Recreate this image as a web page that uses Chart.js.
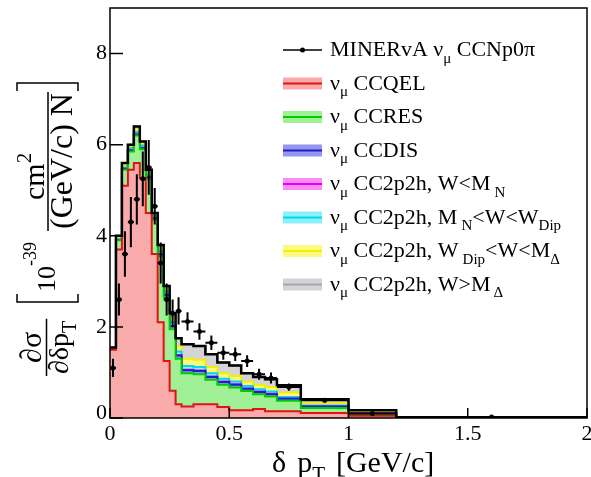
<!DOCTYPE html>
<html lang="en">
<head>
<meta charset="UTF-8">
<title>MINERvA dpT</title>
<script src="https://cdn.jsdelivr.net/npm/chart.js@4.4.0/dist/chart.umd.min.js"></script>
<style>
  html, body { margin: 0; padding: 0; background: #fff; }
  .grafico { width: 591px; height: 477px; position: relative; }
</style>
</head>
<body>
<div class="grafico"><canvas id="myChart"></canvas></div>
<script>
// bin edges of delta pT [GeV/c]
const binEdges = [0, 0.025, 0.05, 0.075, 0.1, 0.125, 0.15, 0.175, 0.2, 0.225, 0.25, 0.275, 0.3,
                  0.35, 0.4, 0.45, 0.5, 0.55, 0.6, 0.65, 0.7, 0.8, 1.0, 1.2, 2.0];

// MC components, one value per bin (they are stacked)
const ccqel = [1.50, 3.70, 5.10, 5.45, 5.60, 5.27, 4.50, 3.60, 2.10, 1.25, 0.60, 0.30, 0.25, 0.30, 0.30, 0.24, 0.17, 0.17, 0.20, 0.15, 0.15, 0.11, 0.05, 0.003];
const ccres = [0.02, 0.20, 0.35, 0.40, 0.60, 0.63, 0.75, 0.75, 1.45, 1.40, 1.35, 1.00, 0.73, 0.66, 0.54, 0.49, 0.50, 0.42, 0.32, 0.32, 0.23, 0.11, 0.03, 0.002];
const ccdis = [0.00, 0.01, 0.02, 0.02, 0.02, 0.02, 0.03, 0.03, 0.04, 0.05, 0.06, 0.07, 0.07, 0.07, 0.06, 0.06, 0.06, 0.05, 0.05, 0.05, 0.04, 0.03, 0.02, 0.001];
const mecLowW = [0.00, 0.00, 0.00, 0.01, 0.01, 0.01, 0.01, 0.01, 0.01, 0.01, 0.01, 0.01, 0.01, 0.01, 0.01, 0.01, 0.01, 0.01, 0.01, 0.01, 0.01, 0.005, 0.002, 0.0];
const mecDip = [0.01, 0.02, 0.03, 0.04, 0.05, 0.05, 0.05, 0.05, 0.06, 0.07, 0.08, 0.08, 0.08, 0.08, 0.07, 0.06, 0.06, 0.05, 0.05, 0.05, 0.03, 0.02, 0.01, 0.001];
const mecDelta = [0.01, 0.03, 0.04, 0.03, 0.05, 0.04, 0.05, 0.03, 0.06, 0.05, 0.08, 0.12, 0.16, 0.16, 0.14, 0.12, 0.12, 0.10, 0.10, 0.10, 0.10, 0.05, 0.02, 0.001];
const mecHighW = [0.01, 0.04, 0.06, 0.05, 0.07, 0.05, 0.06, 0.03, 0.08, 0.07, 0.12, 0.17, 0.32, 0.30, 0.28, 0.24, 0.23, 0.18, 0.17, 0.17, 0.16, 0.085, 0.038, 0.002];

// MINERvA data
const dataY = [1.10, 2.60, 3.60, 4.30, 4.80, 5.25, 5.50, 4.65, 3.40, 2.60, 2.30, 2.35, 2.12, 1.90, 1.65, 1.43, 1.40, 1.25, 0.96, 0.88, 0.68, 0.39, 0.10, 0.02];
const dataErr = [0.20, 0.35, 0.50, 0.55, 0.55, 0.60, 0.60, 0.40, 0.45, 0.35, 0.30, 0.30, 0.20, 0.18, 0.16, 0.15, 0.15, 0.13, 0.12, 0.12, 0.08, 0.05, 0.03, 0.01];

const yTicks = [0, 2, 4, 6, 8];
const xTicks = [0, 0.5, 1, 1.5, 2];

const FONT = '"Liberation Serif", "Times New Roman", serif';

// step histogram: a point on every left edge, last value repeated at the end
function steps(values) {
    var pts = [];
    for (var i = 0; i < binEdges.length; i++) {
        pts.push({ x: binEdges[i], y: values[Math.min(i, values.length - 1)] });
    }
    return pts;
}

var total = ccqel.map(function (v, i) {
    return v + ccres[i] + ccdis[i] + mecLowW[i] + mecDip[i] + mecDelta[i] + mecHighW[i];
});

var centers = [];
for (var i = 0; i < dataY.length; i++) centers.push((binEdges[i] + binEdges[i + 1]) / 2);

function comp(values, line, fill, first) {
    return {
        data: steps(values), stepped: true, stack: 'mc',
        borderColor: line, backgroundColor: fill, borderWidth: 2,
        fill: first ? 'origin' : '-1', pointRadius: 0, order: 0
    };
}

const datasets = [
    comp(ccqel, 'rgb(225,20,20)', 'rgb(249,170,170)', true),
    comp(ccres, 'rgb(0,205,0)', 'rgb(160,240,150)'),
    comp(ccdis, 'rgb(30,30,205)', 'rgb(150,150,240)'),
    comp(mecLowW, 'rgb(230,0,230)', 'rgb(250,140,250)'),
    comp(mecDip, 'rgb(0,215,240)', 'rgb(140,240,250)'),
    comp(mecDelta, 'rgb(240,240,0)', 'rgb(250,250,130)'),
    comp(mecHighW, 'rgb(165,165,165)', 'rgb(212,212,216)'),
    { data: steps(total), stepped: true, stack: 'total', borderColor: '#000', borderWidth: 2.5,
      fill: false, pointRadius: 0, order: -1 },
    { type: 'scatter', data: centers.map(function (c, i) { return { x: c, y: dataY[i] }; }),
      stack: 'data', pointRadius: 2.5, pointBackgroundColor: '#000', pointBorderWidth: 0, order: -2 }
];

function setFont(ctx, size) {
    ctx.font = Math.round(size) + 'px ' + FONT;
}

// draws text pieces with sub / superscripts
function richText(ctx, x, y, parts, size) {
    var cx = x;
    parts.forEach(function (p) {
        setFont(ctx, p.s ? size * 0.7 : size);
        var dy = p.s === 'sub' ? size * 0.3 : (p.s === 'sup' ? -size * 0.42 : 0);
        cx += p.g || 0;
        ctx.fillText(p.t, cx, y + dy);
        cx += ctx.measureText(p.t).width;
    });
    return cx - x;
}

var nu = [{ t: 'ν' }, { t: 'μ', s: 'sub' }];
const legendItems = [
    { parts: [{ t: 'MINERvA ν' }, { t: 'μ', s: 'sub' }, { t: ' CCNp0π' }] },
    { parts: nu.concat([{ t: ' CCQEL' }]), ds: 0 },
    { parts: nu.concat([{ t: ' CCRES' }]), ds: 1 },
    { parts: nu.concat([{ t: ' CCDIS' }]), ds: 2 },
    { parts: nu.concat([{ t: ' CC2p2h, W<M' }, { t: 'N', s: 'sub', g: 4 }]), ds: 3 },
    { parts: nu.concat([{ t: ' CC2p2h, M' }, { t: 'N', s: 'sub', g: 4 }, { t: '<W<W' }, { t: 'Dip', s: 'sub' }]), ds: 4 },
    { parts: nu.concat([{ t: ' CC2p2h, W' }, { t: 'Dip', s: 'sub', g: 4 }, { t: '<W<M' }, { t: 'Δ', s: 'sub' }]), ds: 5 },
    { parts: nu.concat([{ t: ' CC2p2h, W>M' }, { t: 'Δ', s: 'sub', g: 3 }]), ds: 6 }
];

const rootStyle = {
    id: 'rootStyle',
    afterDatasetsDraw: function (chart) {
        var ctx = chart.ctx, xs = chart.scales.x, ys = chart.scales.y;
        ctx.save();
        ctx.strokeStyle = '#000';
        ctx.lineWidth = 2;
        for (var i = 0; i < dataY.length; i++) {
            var xl = xs.getPixelForValue(binEdges[i]), xr = xs.getPixelForValue(binEdges[i + 1]);
            var xc = xs.getPixelForValue(centers[i]);
            var yc = ys.getPixelForValue(dataY[i]);
            ctx.beginPath();
            ctx.moveTo(xl, yc); ctx.lineTo(xr, yc);
            ctx.moveTo(xc, ys.getPixelForValue(dataY[i] + dataErr[i]));
            ctx.lineTo(xc, ys.getPixelForValue(Math.max(dataY[i] - dataErr[i], 0)));
            ctx.stroke();
        }
        ctx.restore();
    },
    afterDraw: function (chart) {
        var ctx = chart.ctx, a = chart.chartArea, xs = chart.scales.x, ys = chart.scales.y;
        ctx.save();
        ctx.fillStyle = '#000';
        ctx.strokeStyle = '#000';

        // frame and inward ticks
        ctx.lineWidth = 1.5;
        ctx.strokeRect(a.left, a.top, a.right - a.left, a.bottom - a.top);
        ctx.beginPath();
        yTicks.forEach(function (v) {
            var y = ys.getPixelForValue(v);
            ctx.moveTo(a.left, y); ctx.lineTo(a.left + 13, y);
        });
        xTicks.forEach(function (v) {
            var x = xs.getPixelForValue(v);
            ctx.moveTo(x, a.bottom); ctx.lineTo(x, a.bottom - 10);
        });
        ctx.stroke();

        // tick labels
        setFont(ctx, 22);
        ctx.textBaseline = 'middle';
        ctx.textAlign = 'right';
        yTicks.forEach(function (v) {
            ctx.fillText(String(v), a.left - 3, ys.getPixelForValue(v) - (v === 0 ? 5 : 0));
        });
        ctx.textAlign = 'center';
        ctx.textBaseline = 'top';
        xTicks.forEach(function (v) {
            ctx.fillText(String(v), xs.getPixelForValue(v), a.bottom + 5);
        });

        // x title
        ctx.textAlign = 'left';
        ctx.textBaseline = 'alphabetic';
        richText(ctx, 272, 472, [{ t: 'δ' }, { t: 'p', g: 11 }, { t: 'T', s: 'sub' }, { t: '[GeV/c]', g: 11 }], 30);

        // y title, rotated
        ctx.save();
        ctx.rotate(-Math.PI / 2);
        ctx.lineWidth = 1.5;
        var wd = richText(ctx, -374, 68, [{ t: '∂δp' }, { t: 'T', s: 'sub' }], 28);
        setFont(ctx, 30);
        var wn = ctx.measureText('∂σ').width;
        ctx.fillText('∂σ', -374 + wd / 2 - wn / 2, 41);
        ctx.beginPath();
        ctx.moveTo(-376, 46.5); ctx.lineTo(-374 + wd + 2, 46.5);
        // brackets
        ctx.moveTo(-294, 17); ctx.lineTo(-302, 17); ctx.lineTo(-302, 78); ctx.lineTo(-294, 78);
        ctx.moveTo(-91, 17); ctx.lineTo(-83, 17); ctx.lineTo(-83, 78); ctx.lineTo(-91, 78);
        // fraction bar of the unit
        ctx.moveTo(-231, 48); ctx.lineTo(-92, 48);
        ctx.stroke();
        richText(ctx, -292, 55, [{ t: '10' }], 26);
        richText(ctx, -266, 36, [{ t: '-39' }], 18);
        setFont(ctx, 32);
        var wu = ctx.measureText('(GeV/c) N').width;
        ctx.fillText('(GeV/c) N', -161 - wu / 2, 72);
        richText(ctx, -200, 44, [{ t: 'cm' }, { t: '2', s: 'sup' }], 30);
        ctx.restore();

        // legend
        legendItems.forEach(function (it, k) {
            var base = 56 + k * 33.5, cy = base - 6;
            if (it.ds === undefined) {
                ctx.lineWidth = 1.5;
                ctx.beginPath();
                ctx.moveTo(283, cy); ctx.lineTo(322, cy);
                ctx.stroke();
                ctx.beginPath();
                ctx.arc(302.5, cy, 2.5, 0, Math.PI * 2);
                ctx.fill();
            } else {
                var d = datasets[it.ds];
                ctx.fillStyle = d.backgroundColor;
                ctx.fillRect(283, cy - 6, 39, 12);
                ctx.strokeStyle = d.borderColor;
                ctx.lineWidth = 2;
                ctx.beginPath();
                ctx.moveTo(283, cy); ctx.lineTo(322, cy);
                ctx.stroke();
                ctx.fillStyle = '#000';
                ctx.strokeStyle = '#000';
            }
            richText(ctx, 330, base, it.parts, 22);
        });
        ctx.restore();
    }
};

const myChart = new Chart(document.getElementById('myChart'), {
    type: 'line',
    data: { datasets: datasets },
    options: {
        responsive: true,
        maintainAspectRatio: false,
        animation: false,
        layout: { padding: { top: 8, right: 3, left: 0, bottom: 0 } },
        plugins: { legend: { display: false }, tooltip: { enabled: false } },
        scales: {
            x: {
                type: 'linear', min: 0, max: 2,
                ticks: { stepSize: 0.5, display: false },
                grid: { display: false, drawTicks: false }, border: { display: false },
                afterFit: function (s) { s.height = 59; }
            },
            y: {
                stacked: true, min: 0, max: 9,
                ticks: { stepSize: 2, display: false, includeBounds: false },
                grid: { display: false, drawTicks: false }, border: { display: false },
                afterFit: function (s) { s.width = 110; }
            }
        }
    },
    plugins: [rootStyle]
});
</script>
</body>
</html>
